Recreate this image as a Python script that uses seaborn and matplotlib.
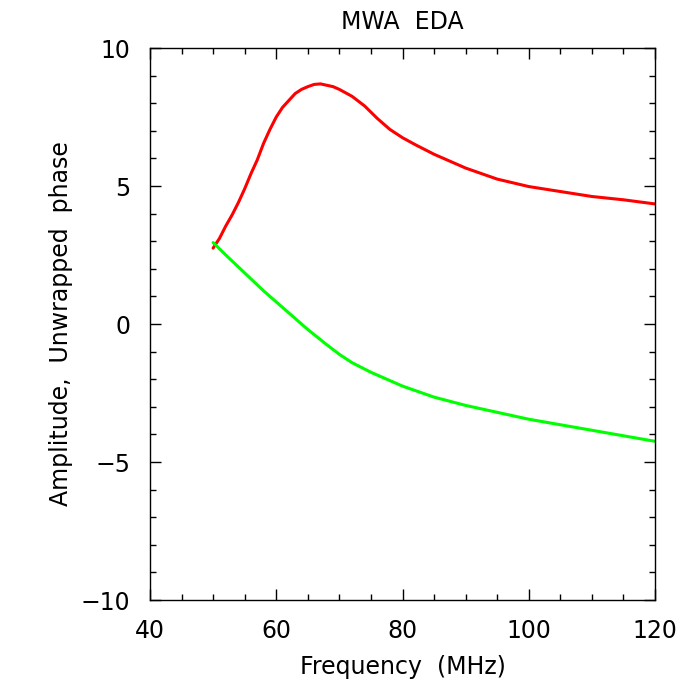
"""
MWA EDA amplitude / unwrapped phase vs frequency
"""

import numpy as np
import pandas as pd
import matplotlib
matplotlib.use('Agg')
import matplotlib.pyplot as plt
from matplotlib.ticker import MultipleLocator
import seaborn as sns

# amplitude curve (red)
amp_freq = [50, 51, 52, 53, 54, 55, 56, 57, 58, 59, 60, 61, 62, 63, 64, 65, 66, 67, 68, 69,
            70, 72, 74, 76, 78, 80, 82, 85, 88, 90, 95, 100, 105, 110, 115, 120]
amp_vals = [2.75, 3.1, 3.55, 3.95, 4.4, 4.9, 5.45, 5.95, 6.55, 7.05, 7.5, 7.85, 8.1, 8.35, 8.5, 8.6,
            8.68, 8.7, 8.65, 8.6, 8.5, 8.25, 7.9, 7.45, 7.05, 6.75, 6.5, 6.15, 5.85, 5.65, 5.25,
            4.98, 4.8, 4.62, 4.5, 4.35]

# unwrapped phase curve (green)
phase_freq = [50, 52, 55, 58, 60, 62, 65, 68, 70, 72, 75, 78, 80, 85, 90, 95, 100, 105, 110, 115, 120]
phase_vals = [2.95, 2.5, 1.85, 1.2, 0.8, 0.4, -0.2, -0.75, -1.1, -1.4, -1.75, -2.05, -2.25,
              -2.65, -2.95, -3.2, -3.45, -3.65, -3.85, -4.05, -4.25]

x_ticks = [40, 60, 80, 100, 120]
y_ticks = [-10, -5, 0, 5, 10]

sns.set_style('ticks')
plt.rcParams['font.family'] = ['DejaVu Sans']
plt.rcParams['text.color'] = 'black'
plt.rcParams['axes.labelcolor'] = 'black'

df_amp = pd.DataFrame({'freq': amp_freq, 'val': amp_vals})
df_phase = pd.DataFrame({'freq': phase_freq, 'val': phase_vals})

fig = plt.figure(figsize=(7, 7), dpi=100)
ax = fig.add_axes([150 / 700, 100 / 700, 505 / 700, 552 / 700])

sns.lineplot(data=df_amp, x='freq', y='val', color='#ff0000', lw=2.2, ax=ax)
sns.lineplot(data=df_phase, x='freq', y='val', color='#00ff00', lw=2.2, ax=ax)

ax.set_xlim(40, 120)
ax.set_ylim(-10, 10)
ax.set_xticks(x_ticks)
ax.set_yticks(y_ticks)
ax.xaxis.set_minor_locator(MultipleLocator(5))
ax.yaxis.set_minor_locator(MultipleLocator(1))
ax.tick_params(which='both', direction='in', top=True, right=True, width=1.0,
               labelsize=17, colors='black')
ax.tick_params(which='major', length=8, pad=14)
ax.tick_params(which='minor', length=4)
for sp in ax.spines.values():
    sp.set_linewidth(1.0)
    sp.set_color('black')

ax.set_title('MWA  EDA', fontsize=17, pad=14, color='black')
ax.set_xlabel('Frequency  (MHz)', fontsize=17, labelpad=8, color='black')
ax.set_ylabel('Amplitude,  Unwrapped  phase', fontsize=17, labelpad=6, color='black')

fig.savefig('out.png', dpi=100)
